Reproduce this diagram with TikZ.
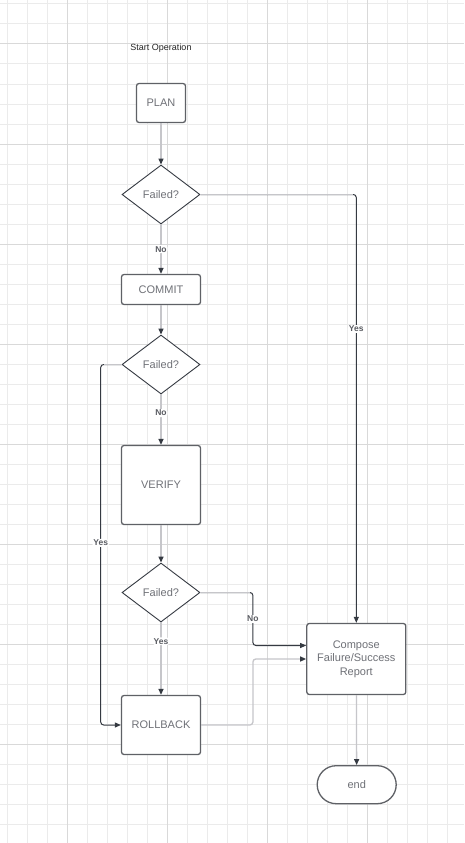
\documentclass[tikz,border=0pt]{standalone}
\usepackage{fontspec}
\setmainfont{Liberation Sans}
\usetikzlibrary{shapes.geometric,arrows.meta}
\definecolor{gridminor}{HTML}{EBEBEB}
\definecolor{gridmajor}{HTML}{D9D9D9}
\definecolor{lightline}{HTML}{C6C6CA}
\definecolor{darkline}{HTML}{353A42}
\definecolor{boxline}{HTML}{5F6166}
\definecolor{txt}{HTML}{6F7177}
\definecolor{lbl}{HTML}{5A5C62}
\begin{document}
\begin{tikzpicture}[x=1pt,y=-1pt,
 box/.style={draw=boxline, line width=1.3pt, rounded corners=2.5pt, fill=white, text=txt, font=\fontsize{11}{13.5}\selectfont, inner sep=0pt, align=center},
 dec/.style={diamond, draw=darkline, line width=0.9pt, fill=white, aspect=1.32, minimum width=78pt, minimum height=59pt, inner sep=0pt, text=txt, font=\fontsize{11}{13}\selectfont},
 lite/.style={draw=lightline, line width=1.3pt, rounded corners=3pt},
 dark/.style={draw=darkline, line width=1pt, rounded corners=3pt},
 tip/.style={-{Triangle[length=6pt,width=5pt,color=darkline]}},
 lab/.style={fill=white, inner sep=1pt, text=lbl, font=\fontsize{8.5}{10}\bfseries\selectfont}
]
\fill[white] (0,0) rectangle (464,843);
\useasboundingbox (0,0) rectangle (464,843);
% grid
\foreach \k in {0,...,22} {\draw[gridminor, line width=1pt] (7.3+20*\k,0) -- (7.3+20*\k,843);}
\foreach \k in {0,...,41} {\draw[gridminor, line width=1pt] (0,4+20*\k) -- (464,4+20*\k);}
\foreach \k in {0,...,3} {\draw[gridmajor, line width=1pt] (67.3+100*\k,0) -- (67.3+100*\k,843);}
\foreach \k in {0,...,7} {\draw[gridmajor, line width=1pt] (0,44+100*\k) -- (464,44+100*\k);}
% nodes
\node[font=\fontsize{9}{10}\selectfont, text=black!85, inner sep=0pt] (start) at (161,48.5) {Start Operation};
\node[box, minimum width=49pt, minimum height=39pt] (plan) at (161,103) {PLAN};
\node[dec] (f1) at (161,194.5) {Failed?};
\node[box, minimum width=79pt, minimum height=30pt] (commit) at (161,289.5) {COMMIT};
\node[dec] (f2) at (161,364.5) {Failed?};
\node[box, minimum width=79pt, minimum height=79pt] (verify) at (161,485) {VERIFY};
\node[dec] (f3) at (161,592.5) {Failed?};
\node[box, minimum width=79pt, minimum height=59pt] (rollback) at (161,725) {ROLLBACK};
\node[box, minimum width=99pt, minimum height=71pt] (compose) at (356.3,659) {Compose\\Failure/Success\\Report};
\node[box, minimum width=79pt, minimum height=38pt, rounded corners=19pt] (endn) at (356.7,784.7) {end};
% helper coordinates
\coordinate (c1) at (f1.east -| compose.north);
\coordinate (c2) at (100.7,364.5);
\coordinate (c3) at (c2 |- rollback.west);
\coordinate (cin) at ([yshift=13.5pt]compose.west);
\coordinate (c4) at (252.9,592.5);
\coordinate (c5) at (c4 |- cin);
\coordinate (c6) at (rollback.east -| c4);
\coordinate (c7) at (c4 |- compose.west);
% connectors
\draw[lite, tip] (plan) -- (f1);
\draw[lite, tip] (f1) -- node[lab]{No} (commit);
\draw[dark, tip] (f1.east) -- (c1) -- node[lab, pos=0.314]{Yes} (compose.north);
\draw[lite] (f1.east) -- ([xshift=-3pt]c1);
\draw[lite, tip] (commit) -- (f2);
\draw[dark, tip] (f2.west) -- (c2) -- node[lab, pos=0.495]{Yes} (c3) -- (rollback.west);
\draw[lite] (f2.west) -- ([xshift=3pt]c2);
\draw[lite, tip] (f2) -- node[lab, pos=0.37]{No} (verify);
\draw[lite, tip] (verify) -- (f3);
\draw[lite, tip] (f3) -- node[lab, pos=0.26]{Yes} (rollback);
\draw[dark, tip] (f3.east) -- (c4) -- node[lab]{No} (c5) -- (cin);
\draw[lite] (f3.east) -- ([xshift=-3pt]c4);
\draw[lite, tip] (rollback.east) -- (c6) -- (c7) -- (compose.west);
\draw[lite, tip] (compose) -- (endn);
\end{tikzpicture}
\end{document}
